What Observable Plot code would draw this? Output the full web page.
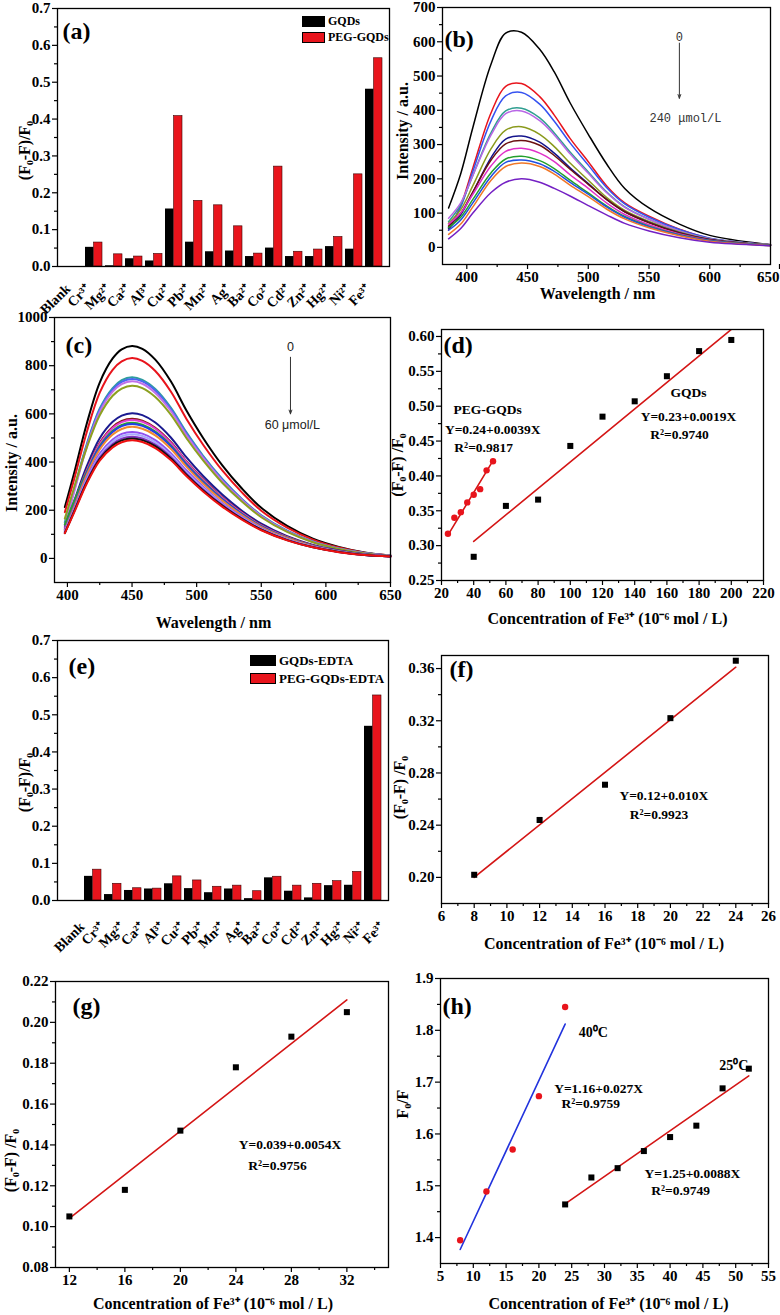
<!DOCTYPE html>
<html><head><meta charset="utf-8">
<script src="https://cdn.jsdelivr.net/npm/d3@7"></script>
<script src="https://cdn.jsdelivr.net/npm/@observablehq/plot@0.6"></script>
<style>
body{margin:0;background:#fff;}
#fig{position:relative;width:780px;height:1315px;overflow:hidden;background:#fff;font-family:"Liberation Serif","Times New Roman",serif;font-weight:bold;}
.cell{position:absolute;}
.cell svg{overflow:visible;}
.leg{position:absolute;display:flex;align-items:center;white-space:nowrap;color:#000;}
.sw{display:inline-block;border:1px solid #000;box-sizing:border-box;margin-right:3px;}
</style></head><body><div id="fig"></div>
<script>
// ---------- DATA ----------
const ions = ["Blank","Cr³⁺","Mg²⁺","Ca²⁺","Al³⁺","Cu²⁺","Pb²⁺","Mn²⁺","Ag⁺","Ba²⁺","Co²⁺","Cd²⁺","Zn²⁺","Hg²⁺","Ni²⁺","Fe³⁺"];
const aGQDs = [0,0.052,0.002,0.021,0.015,0.156,0.066,0.040,0.042,0.027,0.050,0.027,0.027,0.054,0.047,0.481];
const aPEG  = [0,0.065,0.033,0.027,0.034,0.408,0.178,0.166,0.109,0.035,0.271,0.040,0.046,0.080,0.250,0.565];
const eGQDs = [0,0.065,0.016,0.027,0.031,0.045,0.032,0.021,0.031,0.005,0.061,0.025,0.007,0.040,0.041,0.469];
const ePEG  = [0,0.083,0.045,0.033,0.032,0.065,0.054,0.037,0.040,0.025,0.064,0.040,0.045,0.052,0.077,0.552];

const bWave = [385,395,405,420,432,445,460,472,485,500,515,530,550,575,600,650];
const bBlack   = [115,215,350,535,625,628,578,512,422,330,244,172,115,68,35,8];
const bRed     = [50,122,232,393,470,478,440,386,318,250,180,130,91,53,26,8];
const bBlue    = [58,118,222,370,442,452,418,368,305,240,175,127,88,52,27,8];
const bTeal    = [75,125,210,335,398,406,378,334,278,220,162,118,82,48,25,7];
const bViolet  = [85,130,210,328,390,398,370,328,273,216,160,117,82,48,25,7];
const bOlive   = [70,110,180,288,342,352,330,294,246,196,146,108,76,45,24,7];
const bNavy    = [55,95,160,262,316,325,307,275,232,186,140,104,73,43,23,6];
const bMaroon  = [62,100,162,255,302,312,298,268,228,184,140,104,72,42,22,6];
const bMagenta = [68,100,155,238,280,289,275,250,212,172,130,96,66,39,21,6];
const bGreen   = [58,88,140,218,258,266,253,230,196,159,121,90,62,37,20,6];
const bBlue2   = [50,80,130,207,248,255,244,222,190,155,118,88,60,36,19,5];
const bOrange  = [38,68,118,196,236,246,236,214,182,148,112,83,57,34,18,5];
const bPurple  = [25,55,100,160,190,200,190,172,150,122,95,70,48,28,15,5];
const bCurves = [bBlack,bRed,bBlue,bTeal,bViolet,bOlive,bNavy,bMaroon,bMagenta,bGreen,bBlue2,bOrange,bPurple];
const bColors = ["#000000","#e8141c","#3552f0","#2f9e90","#b866e6","#8a9a1c","#14148c","#6a1010","#e030c8","#22a02c","#1f4fe0","#f07828","#7420c4"];

const cWave = [398,405,415,425,435,442,450,458,468,480,492,505,520,535,550,570,590,610,630,650];
const cBlack    = [213,350,560,730,830,868,882,870,825,735,615,500,385,290,210,135,82,48,25,12];
const cRed      = [192,325,525,688,783,818,832,820,778,693,580,472,364,274,198,128,78,45,24,12];
const cTeal     = [150,285,475,622,707,740,752,741,703,626,524,426,329,247,179,115,70,41,22,11];
const cRoyal    = [140,278,470,617,701,733,745,735,697,620,519,422,326,245,177,114,69,40,21,11];
const cViolet   = [135,272,463,608,692,723,735,725,687,612,512,417,321,242,175,112,68,40,21,11];
const cOlive    = [165,290,460,594,675,705,717,707,670,597,500,407,313,236,171,110,67,39,20,10];
const cNavy     = [130,235,383,499,567,593,603,595,564,502,420,342,264,198,144,92,56,33,17,9];
const cWine     = [120,225,368,480,546,571,580,572,542,483,404,329,253,191,138,89,54,31,16,9];
const cMagenta  = [125,226,365,476,541,566,575,567,538,479,401,326,251,189,137,88,53,31,16,9];
const cGreen    = [140,235,360,466,530,554,563,555,526,469,392,319,246,185,134,86,52,30,16,9];
const cBlue     = [118,215,354,462,525,549,558,550,522,465,389,316,244,184,133,85,52,30,16,9];
const cOrange   = [115,210,347,452,514,537,546,538,511,455,381,310,239,180,130,84,51,29,15,8];
const cViolet2  = [112,202,333,435,494,517,525,518,491,437,366,298,229,173,125,80,49,28,15,8];
const cLavender = [110,198,327,426,485,507,515,508,482,429,359,292,225,169,123,79,48,28,14,8];
const cPurple   = [108,195,321,418,475,497,505,498,472,421,352,286,221,166,120,77,47,27,14,8];
const cBlack2   = [105,192,316,412,469,490,498,491,466,415,347,282,218,164,119,76,46,27,14,8];
const cRed2     = [105,188,311,406,461,482,490,483,458,408,342,278,214,161,117,75,46,26,14,8];
const cCurves = [cBlack,cRed,cTeal,cRoyal,cViolet,cOlive,cNavy,cWine,cMagenta,cGreen,cBlue,cOrange,cViolet2,cLavender,cPurple,cBlack2,cRed2];
const cColors = ["#000000","#e8141c","#2e9e9e","#4a66f0","#c070e8","#8ca020","#1a1a90","#8b1a1a","#e040d0","#2aa030","#2040e8","#f08a30","#9050f0","#a8a8ff","#8030c0","#111111","#ee1010"];

const dGqdX = [40,60,80,100,120,140,160,180,200];
const dGqdY = [0.284,0.357,0.366,0.443,0.485,0.507,0.543,0.579,0.595];
const dPegX = [24,28,32,36,40,44,48,52];
const dPegY = [0.317,0.340,0.348,0.362,0.373,0.381,0.408,0.421];
const dGqdFitX = [40,201], dGqdFitY = [0.306,0.612];
const dPegFitX = [24,52],  dPegFitY = [0.315,0.422];

const fX = [8,12,16,20,24];
const fY = [0.202,0.244,0.271,0.322,0.366];
const fFitX = [8,24], fFitY = [0.200,0.361];

const gX = [12,16,20,24,28,32];
const gY = [0.105,0.118,0.147,0.178,0.193,0.205];
const gFitX = [12,32], gFitY = [0.104,0.211];

const h40X = [8,12,16,20,24];
const h40Y = [1.395,1.489,1.570,1.673,1.845];
const h25X = [24,28,32,36,40,44,48,52];
const h25Y = [1.464,1.516,1.534,1.567,1.594,1.616,1.688,1.726];
const h40FitX = [8,24], h40FitY = [1.377,1.812];
const h25FitX = [24,52], h25FitY = [1.465,1.712];

// tick values
const ticks01 = [0,0.1,0.2,0.3,0.4,0.5,0.6,0.7];
const minor01 = [0.05,0.15,0.25,0.35,0.45,0.55,0.65];
const waveTicks = [400,450,500,550,600,650];
const bWaveTicks = [400,450,500,550,600];
const bWaveLast = [650];
const waveMinor = [425,475,525,575,625];
const bYTicks = [0,100,200,300,400,500,600,700];
const bYMinor = [50,150,250,350,450,550,650];
const cYTicks = [0,200,400,600,800,1000];
const cYMinor = [100,300,500,700,900];
const dXTicks = [20,40,60,80,100,120,140,160,180,200,220];
const dXMinor = [30,50,70,90,110,130,150,170,190,210];
const dYTicks = [0.25,0.30,0.35,0.40,0.45,0.50,0.55,0.60];
const dYMinor = [0.275,0.325,0.375,0.425,0.475,0.525,0.575];
const fXTicks = [6,8,10,12,14,16,18,20,22,24,26];
const fXMinor = [7,9,11,13,15,17,19,21,23,25];
const fYTicks = [0.20,0.24,0.28,0.32,0.36];
const fYMinor = [0.22,0.26,0.30,0.34];
const gXTicks = [12,16,20,24,28,32];
const gXMinor = [14,18,22,26,30,34];
const gYTicks = [0.08,0.10,0.12,0.14,0.16,0.18,0.20,0.22];
const gYMinor = [0.09,0.11,0.13,0.15,0.17,0.19,0.21];
const hXTicks = [5,10,15,20,25,30,35,40,45,50,55];
const hXMinor = [7.5,12.5,17.5,22.5,27.5,32.5,37.5,42.5,47.5,52.5];
const hYTicks = [1.4,1.5,1.6,1.7,1.8,1.9];
const hYMinor = [1.45,1.55,1.65,1.75,1.85];

// ---------- HELPERS ----------
const fig = document.getElementById("fig");
const SERIF = "Liberation Serif, Times New Roman, serif";
const BLACK = "#000";
const RED = "#e8141c";
const FITRED = "#d41515";
const TICKFS = 15;

function addPlot(box, frame, opts) {
  const [bx, by, bw, bh] = box;
  const [L, R, T, B] = frame;
  const svg = Plot.plot({
    width: bw, height: bh,
    marginLeft: L - bx, marginRight: bx + bw - R, marginTop: T - by, marginBottom: by + bh - B,
    style: {fontFamily: SERIF, fontWeight: "bold", fontSize: "15px", background: "transparent", overflow: "visible", color: "#000"},
    ...opts
  });
  const div = document.createElement("div");
  div.className = "cell";
  div.style.left = bx + "px";
  div.style.top = by + "px";
  div.appendChild(svg);
  fig.appendChild(div);
}
function yAxis(major, minor, fmt) {
  return [
    Plot.axisY(major, {tickSize: 5, tickPadding: 2, tickFormat: fmt, label: null, fontSize: TICKFS, strokeWidth: 1.2}),
    Plot.axisY(minor, {tickSize: 3, tickFormat: () => "", label: null, strokeWidth: 1.2})
  ];
}
function xAxis(major, minor, fmt, extra = {}) {
  return [
    Plot.axisX(major, {tickSize: 5, tickPadding: 2, tickFormat: fmt, label: null, fontSize: TICKFS, strokeWidth: 1.2, ...extra}),
    Plot.axisX(minor, {tickSize: 3, tickFormat: () => "", label: null, strokeWidth: 1.2})
  ];
}
const frameMark = () => Plot.frame({stroke: "#000", strokeWidth: 1.3});
function yTitle(t, dx, dy) {
  return Plot.text([t], {text: d => d, frameAnchor: "left", rotate: -90, dx, dy, textAnchor: "middle", lineAnchor: "middle", fontSize: 16, fontWeight: "bold"});
}
function xTitle(t, dx, dy) {
  return Plot.text([t], {text: d => d, frameAnchor: "bottom", dx, dy, textAnchor: "middle", lineAnchor: "middle", fontSize: 16, fontWeight: "bold"});
}
function panelLabel(t, dx, dy) {
  return Plot.text([t], {text: d => d, frameAnchor: "top-left", dx, dy, textAnchor: "start", lineAnchor: "top", fontSize: 24, fontWeight: "bold"});
}
function legend(x, y, items, sw, fs, gap) {
  items.forEach(([label, color], i) => {
    const row = document.createElement("div");
    row.className = "leg";
    row.style.left = x + "px";
    row.style.top = (y + i * gap) + "px";
    row.style.height = sw[1] + "px";
    row.style.fontSize = fs + "px";
    const s = document.createElement("span");
    s.className = "sw";
    s.style.width = sw[0] + "px";
    s.style.height = sw[1] + "px";
    s.style.background = color;
    row.appendChild(s);
    row.appendChild(document.createTextNode(label));
    fig.appendChild(row);
  });
}
const pts = (xs, ys) => xs.map((x, i) => ({x, y: ys[i]}));
function text(x, y, t, extra = {}) {
  return Plot.text([{x, y, t}], {x: "x", y: "y", text: "t", fontSize: 13.5, fontWeight: "bold", ...extra});
}

// ---------- bar panels (a) and (e) ----------
function barPanel(box, frame, g, p, labDx, labDy, lab, ytDy) {
  const dataG = ions.map((ion, i) => ({ion, v: g[i]}));
  const dataP = ions.map((ion, i) => ({ion, v: p[i]}));
  addPlot(box, frame, {
    x: {type: "band", domain: ions, padding: 0.15, axis: null},
    y: {domain: [0, 0.7]},
    marks: [
      Plot.barY(dataG, {x: "ion", y: "v", fill: BLACK, insetRight: 8.6, insetLeft: 0}),
      Plot.barY(dataP, {x: "ion", y: "v", fill: RED, stroke: "#3a0000", strokeWidth: 0.6, insetLeft: 8.6, insetRight: 0}),
      ...yAxis(ticks01, minor01, d3.format(".1f")),
      Plot.text(ions, {x: d => d, text: d => d, frameAnchor: "bottom", rotate: -45, textAnchor: "end", lineAnchor: "middle", dx: labDx, dy: labDy, fontSize: 14, fontWeight: "bold"}),
      yTitle("(F₀-F)/F₀", -33, ytDy),
      panelLabel(lab[0], lab[1], lab[2]),
      frameMark()
    ]
  });
}
barPanel([0, 0, 390, 310], [57, 389, 8, 266], aGQDs, aPEG, -6, 20, ["(a)", 5, 13], 13);
legend(302, 16, [["GQDs", BLACK], ["PEG-GQDs", RED]], [23, 11], 12, 16);

// ---------- (b) ----------
addPlot([390, 0, 390, 310], [442, 770, 7, 264], {
  x: {domain: [380, 650]},
  y: {domain: [-50, 700]},
  marks: [
    ...bCurves.map((c, k) => Plot.line(pts(bWave, c), {x: "x", y: "y", stroke: bColors[k], strokeWidth: 1.5, curve: "catmull-rom"})),
    ...xAxis(bWaveTicks, waveMinor, d3.format("d")),
    Plot.axisX(bWaveLast, {tickSize: 5, tickPadding: 2, tickFormat: d3.format("d"), label: null, fontSize: TICKFS, strokeWidth: 1.2, textAnchor: "end", dx: 9}),
    ...yAxis(bYTicks, bYMinor, d3.format("d")),
    Plot.arrow([{x1: 575, y1: 596, x2: 575, y2: 435}], {x1: "x1", y1: "y1", x2: "x2", y2: "y2", stroke: "#333", strokeWidth: 1, headLength: 6, headAngle: 40}),
    text(575, 614, "0", {fontFamily: "Liberation Mono, monospace", fontWeight: "normal", fontSize: 12, fill: "#333"}),
    text(580, 376, "240 μmol/L", {fontFamily: "Liberation Mono, monospace", fontWeight: "normal", fontSize: 12, fill: "#333"}),
    xTitle("Wavelength / nm", -9, 29),
    yTitle("Intensity / a.u.", -40, -5),
    panelLabel("(b)", 2, 22),
    frameMark()
  ]
});

// ---------- (c) ----------
addPlot([0, 310, 390, 325], [54, 390, 317, 582], {
  x: {domain: [390, 650]},
  y: {domain: [-100, 1000]},
  marks: [
    ...cCurves.map((c, k) => Plot.line(pts(cWave, c), {x: "x", y: "y", stroke: cColors[k], strokeWidth: 2, curve: "catmull-rom"})),
    ...xAxis(waveTicks, waveMinor, d3.format("d")),
    ...yAxis(cYTicks, cYMinor, d3.format("d")),
    Plot.arrow([{x1: 572.6, y1: 835, x2: 572.6, y2: 600}], {x1: "x1", y1: "y1", x2: "x2", y2: "y2", stroke: "#333", strokeWidth: 1, headLength: 6, headAngle: 40}),
    text(572.6, 876, "0", {fontFamily: "Liberation Sans, Arial, sans-serif", fontWeight: "normal", fontSize: 12.5, fill: "#222"}),
    text(574, 552, "60 μmol/L", {fontFamily: "Liberation Sans, Arial, sans-serif", fontWeight: "normal", fontSize: 12.5, fill: "#222"}),
    xTitle("Wavelength / nm", -9, 40),
    yTitle("Intensity / a.u.", -43, 13),
    panelLabel("(c)", 11, 18),
    frameMark()
  ]
});

// ---------- (d) ----------
addPlot([390, 310, 390, 325], [441, 763, 329, 580], {
  x: {domain: [20, 220]},
  y: {domain: [0.25, 0.61]},
  marks: [
    Plot.line(pts(dGqdFitX, dGqdFitY), {x: "x", y: "y", stroke: FITRED, strokeWidth: 1.6, clip: true}),
    Plot.line(pts(dPegFitX, dPegFitY), {x: "x", y: "y", stroke: FITRED, strokeWidth: 1.6}),
    Plot.dot(pts(dGqdX, dGqdY), {x: "x", y: "y", symbol: "square", r: 3.4, fill: BLACK}),
    Plot.dot(pts(dPegX, dPegY), {x: "x", y: "y", r: 3.2, fill: RED}),
    ...xAxis(dXTicks, dXMinor, d3.format("d")),
    ...yAxis(dYTicks, dYMinor, d3.format(".2f")),
    text(48.7, 0.495, "PEG-GQDs"),
    text(51.8, 0.467, "Y=0.24+0.0039X"),
    text(46.2, 0.441, "R²=0.9817"),
    text(173.4, 0.520, "GQDs"),
    text(173.4, 0.485, "Y=0.23+0.0019X"),
    text(167.8, 0.459, "R²=0.9740"),
    xTitle("Concentration of Fe³⁺ (10⁻⁶ mol / L)", 5, 38),
    yTitle("(F₀-F) /F₀", -44, 10),
    panelLabel("(d)", 2, 6),
    frameMark()
  ]
});

// ---------- (e) ----------
barPanel([0, 635, 390, 335], [57, 388, 640, 900], eGQDs, ePEG, 9, 24, ["(e)", 11, 16], 12);
legend(250, 655, [["GQDs-EDTA", BLACK], ["PEG-GQDs-EDTA", RED]], [26, 11], 13, 18);

// ---------- (f) ----------
addPlot([390, 635, 390, 335], [441, 768, 655, 903], {
  x: {domain: [6, 26]},
  y: {domain: [0.18, 0.37]},
  marks: [
    Plot.line(pts(fFitX, fFitY), {x: "x", y: "y", stroke: FITRED, strokeWidth: 1.6}),
    Plot.dot(pts(fX, fY), {x: "x", y: "y", symbol: "square", r: 3.4, fill: BLACK}),
    ...xAxis(fXTicks, fXMinor, d3.format("d")),
    ...yAxis(fYTicks, fYMinor, d3.format(".2f")),
    text(19.6, 0.2625, "Y=0.12+0.010X"),
    text(19.3, 0.248, "R²=0.9923"),
    xTitle("Concentration of Fe³⁺ (10⁻⁶ mol / L)", -1, 40),
    yTitle("(F₀-F) /F₀", -42, 8),
    panelLabel("(f)", 8, 4),
    frameMark()
  ]
});

// ---------- (g) ----------
addPlot([0, 970, 390, 345], [55, 388, 981, 1267], {
  x: {domain: [11, 35]},
  y: {domain: [0.08, 0.22]},
  marks: [
    Plot.line(pts(gFitX, gFitY), {x: "x", y: "y", stroke: FITRED, strokeWidth: 1.6}),
    Plot.dot(pts(gX, gY), {x: "x", y: "y", symbol: "square", r: 3.4, fill: BLACK}),
    ...xAxis(gXTicks, gXMinor, d3.format("d")),
    ...yAxis(gYTicks, gYMinor, d3.format(".2f")),
    text(27.9, 0.140, "Y=0.039+0.0054X"),
    text(27.0, 0.130, "R²=0.9756"),
    xTitle("Concentration of Fe³⁺ (10⁻⁶ mol / L)", -9, 36),
    yTitle("(F₀-F) /F₀", -45, 36),
    panelLabel("(g)", 17, 15),
    frameMark()
  ]
});

// ---------- (h) ----------
addPlot([390, 970, 390, 345], [440, 768, 978, 1263], {
  x: {domain: [5, 55]},
  y: {domain: [1.35, 1.9]},
  marks: [
    Plot.line(pts(h40FitX, h40FitY), {x: "x", y: "y", stroke: "#2233dd", strokeWidth: 1.6}),
    Plot.line(pts(h25FitX, h25FitY), {x: "x", y: "y", stroke: FITRED, strokeWidth: 1.6}),
    Plot.dot(pts(h40X, h40Y), {x: "x", y: "y", r: 3.2, fill: RED}),
    Plot.dot(pts(h25X, h25Y), {x: "x", y: "y", symbol: "square", r: 3.4, fill: BLACK}),
    ...xAxis(hXTicks, hXMinor, d3.format("d")),
    ...yAxis(hYTicks, hYMinor, d3.format(".1f")),
    text(28.3, 1.795, "40⁰C", {fontSize: 14}),
    text(49.7, 1.733, "25⁰C", {fontSize: 14}),
    text(29.1, 1.688, "Y=1.16+0.027X"),
    text(27.9, 1.659, "R²=0.9759"),
    text(43.4, 1.524, "Y=1.25+0.0088X"),
    text(41.6, 1.491, "R²=0.9749"),
    xTitle("Concentration of Fe³⁺ (10⁻⁶ mol / L)", 4, 40),
    yTitle("F₀/F", -38, -17),
    panelLabel("(h)", 2, 18),
    frameMark()
  ]
});
</script></body></html>
